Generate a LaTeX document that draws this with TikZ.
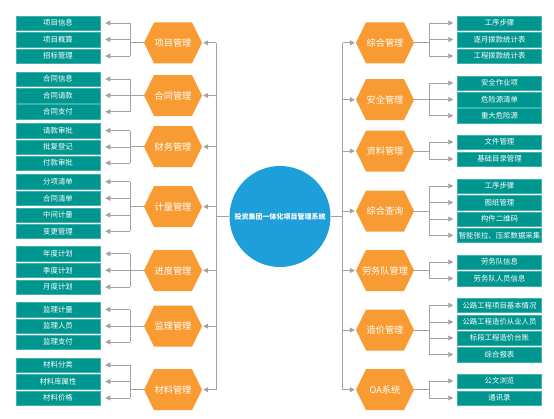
\documentclass[tikz,border=0pt]{standalone}
\usepackage{fontspec}
\newfontfamily\cjk{Noto Sans CJK SC}
\usetikzlibrary{arrows.meta}
\definecolor{tealc}{HTML}{009690}
\definecolor{tealb}{HTML}{3FB3AD}
\definecolor{orangec}{HTML}{F89B32}
\definecolor{bluec}{HTML}{1F9FD9}
\definecolor{grayc}{HTML}{A3A3A3}
\tikzset{
  leaf/.style={fill=tealc, draw=tealb, line width=0.5pt, minimum width=84pt, minimum height=14.5pt, inner sep=0pt, text=white, font=\cjk\fontsize{7.4}{8}\selectfont},
  hexa/.style={minimum width=58pt, minimum height=41pt, inner sep=0pt, text=white, font=\cjk\fontsize{9.2}{10}\selectfont,
    path picture={\fill[orangec] (path picture bounding box.center) ++(-29pt,0pt) -- ++(10pt,20.5pt) -- ++(38pt,0pt) -- ++(10pt,-20.5pt) -- ++(-10pt,-20.5pt) -- ++(-38pt,0pt) -- cycle;}},
  ln/.style={draw=grayc, line width=0.8pt},
  arr/.style={ln, -{Triangle[length=5pt,width=5pt]}},
}
\newcommand\myleftgrp[4]{%
  \node[hexa] (#1) at (173,#2) {#3};
  \foreach \t/\y [count=\i] in {#4} {
    \node[leaf] (#1-\i) at (58,\y) {\t};
    \draw[arr, shorten >=5pt] (#1-\i.east -| lbus) -- (#1-\i.east);
    \xdef\lastleaf{\i}
  }
  \draw[ln] (#1.west) -- (#1.west -| lbus);
  \draw[ln] (#1-1.east -| lbus) -- (#1-\lastleaf.east -| lbus);
  \draw[arr, shorten >=1pt] (#1.east -| mainl) -- (#1.east);
}
\newcommand\myrightgrp[4]{%
  \node[hexa] (#1) at (385,#2) {#3};
  \foreach \t/\y [count=\i] in {#4} {
    \node[leaf] (#1-\i) at (499.5,\y) {\t};
    \draw[arr, shorten >=4pt] (#1-\i.west -| rbus) -- (#1-\i.west);
    \xdef\lastleaf{\i}
  }
  \draw[ln] (#1.east) -- (#1.east -| rbus);
  \draw[ln] (#1-1.west -| rbus) -- (#1-\lastleaf.west -| rbus);
  \draw[arr, shorten >=1pt] (#1.west -| mainr) -- (#1.west);
}
\begin{document}
\begin{tikzpicture}[x=1pt,y=-1pt]
\fill[white] (0,0) rectangle (554,418);
\useasboundingbox (0,0) rectangle (554,418);
\coordinate (lbus) at (130,0);
\coordinate (rbus) at (429,0);
\coordinate (mainl) at (216,0);
\coordinate (mainr) at (342.5,0);
\node[circle, fill=bluec, minimum size=101pt, inner sep=0pt, text=white, font=\cjk\bfseries\fontsize{7}{8}\selectfont] (root) at (280,216.5) {投资集团一体化项目管理系统};
\myleftgrp{L1}{42.8}{项目管理}{项目信息/23, 项目概算/39.5, 招标管理/56}
\myleftgrp{L2}{95.5}{合同管理}{合同信息/79, 合同请款/95.5, 合同支付/111.7}
\myleftgrp{L3}{146.7}{财务管理}{请款审批/130.5, 批复登记/147, 付款审批/163}
\myleftgrp{L4}{206.7}{计量管理}{分项清单/181.7, 合同清单/198.3, 中间计量/215, 变更管理/231.3}
\myleftgrp{L5}{270.5}{进度管理}{年度计划/253.8, 季度计划/270.3, 月度计划/287}
\myleftgrp{L6}{326.2}{监理管理}{监理计量/309.5, 监理人员/326, 监理支付/342}
\myleftgrp{L7}{389.7}{材料管理}{材料分类/365, 材料库属性/381.5, 材料价格/398}
\myrightgrp{R1}{42.8}{综合管理}{工序步骤/23, 逐月拨款统计表/39.5, 工程拨款统计表/56}
\myrightgrp{R2}{99.7}{安全管理}{安全作业项/83, 危险源清单/99.5, 重大危险源/115.7}
\myrightgrp{R3}{151}{资料管理}{文件管理/142, 基础目录管理/159}
\myrightgrp{R4}{211}{综合查询}{工序步骤/186, 图纸管理/202.5, 构件二维码/219, 智能张拉、压浆数据采集/235.3}
\myrightgrp{R5}{270.5}{劳务队管理}{劳务队信息/262, 劳务队人员信息/278.5}
\myrightgrp{R6}{330}{造价管理}{公路工程项目基本情况/305.3, 公路工程造价从业人员/322, 标段工程造价台账/338, 综合报表/354.5}
\myrightgrp{R7}{389.7}{OA系统}{公文浏览/381, 通讯录/398}
\draw[ln] (L1.east -| mainl) -- (L7.east -| mainl);
\draw[ln] (R1.west -| mainr) -- (R7.west -| mainr);
\draw[ln] (root.west) -- (root.west -| mainl);
\draw[ln] (root.east) -- (root.east -| mainr);
\end{tikzpicture}
\end{document}
